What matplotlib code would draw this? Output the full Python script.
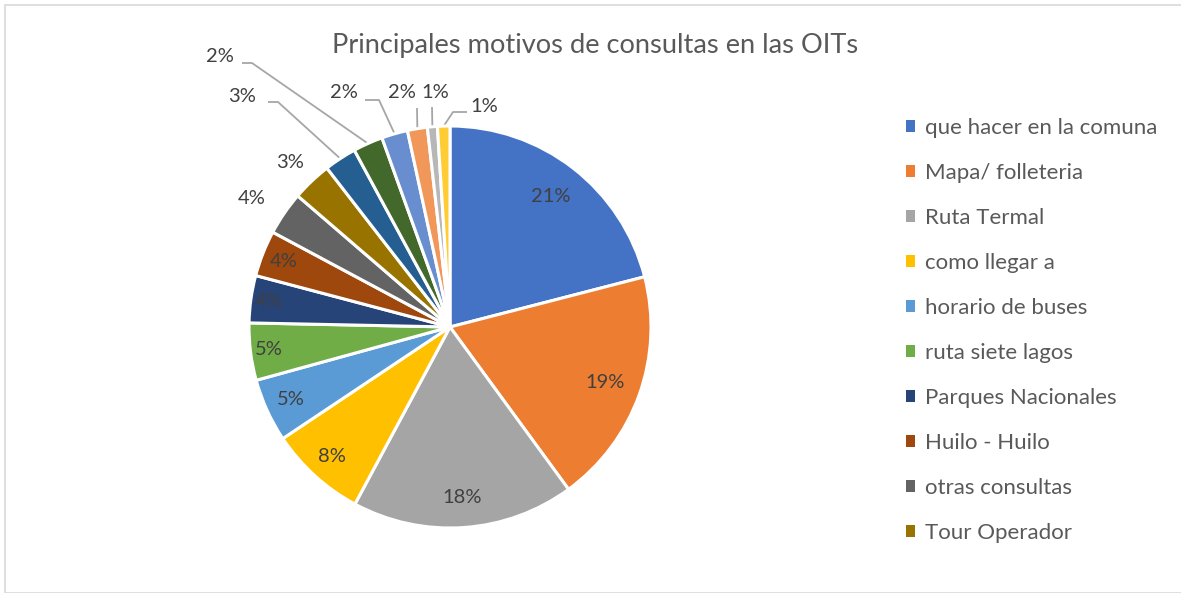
import matplotlib
matplotlib.use("Agg")
import matplotlib.pyplot as plt
from matplotlib.patches import Patch, Rectangle
import numpy as np

# ---------------- data ----------------
title = "Principales motivos de consultas en las OITs"
categories = [
    "que hacer en la comuna",
    "Mapa/ folleteria",
    "Ruta Termal",
    "como llegar a",
    "horario de buses",
    "ruta siete lagos",
    "Parques Nacionales",
    "Huilo - Huilo",
    "otras consultas",
    "Tour Operador",
]
# 16 slices; only the first 10 are named in the (truncated) legend
values = [21.0, 19.0, 17.9, 7.8, 5.1, 4.6, 3.8, 3.7, 3.5, 3.2, 2.6, 2.4, 2.1, 1.6, 0.8, 1.0]
pct_labels = ["21%", "19%", "18%", "8%", "5%", "5%", "4%", "4%", "4%", "3%",
              "3%", "2%", "2%", "2%", "1%", "1%"]
colors = ["#4472C4", "#ED7D31", "#A5A5A5", "#FFC000", "#5B9BD5", "#70AD47",
          "#264478", "#9E480E", "#636363", "#997300", "#255E91", "#43682B",
          "#698ED0", "#F1975A", "#B7B7B7", "#FFCD33"]

# ---------------- layout ----------------
W, H = 1181, 593
CX, CY, R = 450, 327, 201  # pie centre / radius in pixels (from top)

fig = plt.figure(figsize=(W / 100, H / 100), dpi=100)
ax = fig.add_axes([0, 0, 1, 1])
FONT = "Lato"
TXT = "#404040"
LBL = 14.5


def px(x, y):
    return ((x - CX) / R, (CY - y) / R)


wedges, _ = ax.pie(values, colors=colors, startangle=90, counterclock=False,
                   radius=1.0, wedgeprops=dict(edgecolor="white", linewidth=2.2))
ax.set_xlim(-CX / R, (W - CX) / R)
ax.set_ylim(-(H - CY) / R, CY / R)
ax.set_aspect("auto")
ax.axis("off")

# inside labels: radial fraction
inside_r = {0: 0.82, 1: 0.82, 2: 0.85, 3: 0.87, 4: 0.87, 5: 0.91, 6: 0.91, 7: 0.89}
for i, rr in inside_r.items():
    w = wedges[i]
    th = np.deg2rad((w.theta1 + w.theta2) / 2)
    ax.text(rr * np.cos(th), rr * np.sin(th), pct_labels[i], ha="center", va="center",
            fontsize=LBL, color=TXT, family=FONT)

# outside labels without leader
for i, (x, y) in {8: (252, 198), 9: (290, 162)}.items():
    ax.text(*px(x, y), pct_labels[i], ha="center", va="center", fontsize=LBL,
            color=TXT, family=FONT)

# outside labels with leader lines: label centre, leader start, elbow
leaders = {
    10: ((242, 97), (268, 102), (278, 102)),
    11: ((220, 56), (242, 63), (252, 63)),
    12: ((344, 93), (365, 100), (379, 100)),
    13: ((402, 93), (417, 108), (417, 108)),
    14: ((435, 93), (432, 107), (432, 107)),
    15: ((484, 106), (467, 112), (453, 112)),
}
for i, (lab, s, e) in leaders.items():
    w = wedges[i]
    th = np.deg2rad((w.theta1 + w.theta2) / 2)
    tip = (np.cos(th) * 1.0, np.sin(th) * 1.0)
    p1, p2 = px(*s), px(*e)
    ax.plot([p1[0], p2[0], tip[0]], [p1[1], p2[1], tip[1]], color="#A6A6A6", lw=1.3,
            solid_capstyle="butt", zorder=0.5)
    ax.text(*px(*lab), pct_labels[i], ha="center", va="center", fontsize=LBL,
            color=TXT, family=FONT)

# title
fig.text(595 / W, 1 - 45 / H, title, ha="center", va="center", fontsize=19.6,
         color="#595959", family=FONT)

# legend (first 10 entries)
handles = [Patch(facecolor=colors[i], edgecolor="none") for i in range(len(categories))]
leg = fig.legend(handles, categories, loc="upper left", bbox_to_anchor=(906 / W, 1 - 118 / H),
                 frameon=False, prop=dict(family=FONT, size=16), labelcolor="#595959",
                 handlelength=0.4, handleheight=0.4, handletextpad=0.45,
                 labelspacing=1.125, borderpad=0, borderaxespad=0)

# outer border
fig.patches.append(Rectangle((5 / W, 0.5 / H), (W - 4) / W, (H - 5) / H, transform=fig.transFigure,
                             fill=False, edgecolor="#D9D9D9", lw=1.2))

fig.savefig("out.png", dpi=100)
